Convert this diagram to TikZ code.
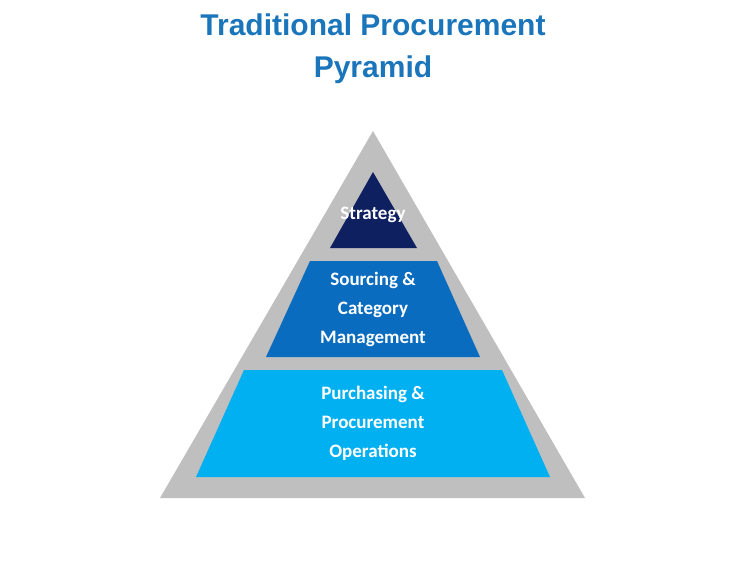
\documentclass[tikz,border=0pt]{standalone}
\usepackage{fontspec}
\setmainfont{Carlito}
\newfontfamily\titlefont{Liberation Sans}
\definecolor{tblue}{HTML}{1A75BB}
\definecolor{pgrey}{HTML}{BFBFBF}
\definecolor{navy}{HTML}{0F2060}
\definecolor{midblue}{HTML}{0A6CBE}
\definecolor{lightblue}{HTML}{00B0F0}
\tikzset{lbl/.style={text=white,font=\bfseries\fontsize{19}{29}\selectfont,align=center},
ttl/.style={text=tblue,font=\titlefont\bfseries\fontsize{30}{42}\selectfont,align=center}}
\begin{document}
\begin{tikzpicture}[x=1pt,y=-1pt]
\useasboundingbox (0,0) rectangle (752,563);
\fill[pgrey] (373,131) -- (585,498) -- (160,498) -- cycle;
\fill[navy] (373,172) -- (417,248) -- (330,248) -- cycle;
\fill[midblue] (310,261) -- (437,261) -- (480,357) -- (266,357) -- cycle;
\fill[lightblue] (244,370) -- (502,370) -- (550,477) -- (196,477) -- cycle;
\node[ttl] (title) at (373,49) {Traditional Procurement\\Pyramid};
\node[lbl] (strategy) at (373,215) {Strategy};
\node[lbl] (sourcing) at (373,309) {Sourcing \&\\Category\\Management};
\node[lbl] (purchasing) at (373,423) {Purchasing \&\\Procurement\\Operations};
\end{tikzpicture}
\end{document}
